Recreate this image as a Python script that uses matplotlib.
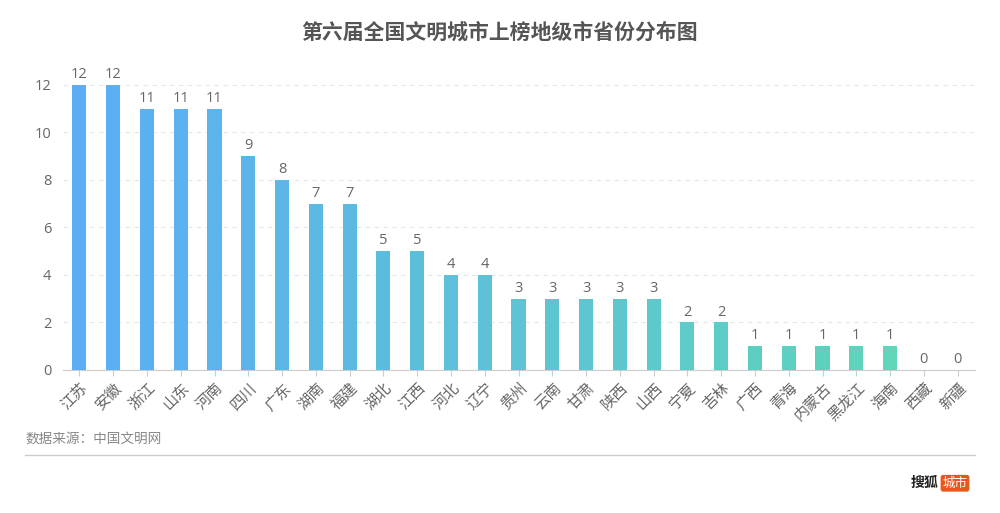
import matplotlib
matplotlib.use('Agg')
import matplotlib.pyplot as plt
from matplotlib.colors import to_rgb
import numpy as np

plt.rcParams['font.family'] = ['Noto Sans CJK SC', 'DejaVu Sans']
num_font = ['Open Sans', 'DejaVu Sans']

provinces = ['江苏', '安徽', '浙江', '山东', '河南', '四川', '广东', '湖南', '福建', '湖北',
             '江西', '河北', '辽宁', '贵州', '云南', '甘肃', '陕西', '山西', '宁夏', '吉林',
             '广西', '青海', '内蒙古', '黑龙江', '海南', '西藏', '新疆']
counts = [12, 12, 11, 11, 11, 9, 8, 7, 7, 5, 5, 4, 4, 3, 3, 3, 3, 3, 2, 2,
          1, 1, 1, 1, 1, 0, 0]
yticks = [0, 2, 4, 6, 8, 10, 12]

fig = plt.figure(figsize=(10, 5.13), dpi=100)
ax = fig.add_axes([0.0625, 0.2788, 0.912, 0.5556])

n = len(provinces)
c0 = np.array(to_rgb('#5BADF5'))
c1 = np.array(to_rgb('#5FD8B4'))
cols = [tuple(c0 + (c1 - c0) * i / (n - 1)) for i in range(n)]

x = np.arange(n)
ax.bar(x, counts, width=0.42, color=cols, zorder=3)
for xi, v in zip(x, counts):
    ax.text(xi, v + 0.12, str(v), ha='center', va='bottom', fontsize=10.5,
            color='#666666', family=num_font)

ax.set_xlim(-0.5, n - 0.5)
ax.set_ylim(0, 12)
ax.set_yticks(yticks)
ax.set_yticklabels([str(t) for t in yticks], fontsize=10.5, color='#666666', family=num_font)
ax.set_xticks(x)
ax.set_xticklabels(provinces, rotation=45, ha='right', rotation_mode='anchor',
                   fontsize=11, color='#666666')
ax.tick_params(axis='y', length=0, pad=8)
ax.tick_params(axis='x', length=4, color='#cccccc', pad=3)
ax.grid(axis='y', color='#e6e6e6', linestyle=(0, (4, 4)), linewidth=0.8, zorder=0)
for s in ['top', 'right', 'left']:
    ax.spines[s].set_visible(False)
ax.spines['bottom'].set_color('#cccccc')

fig.text(0.5, 0.937, '第六届全国文明城市上榜地级市省份分布图', ha='center', va='center',
         fontsize=15, fontweight='bold', color='#555555')
fig.text(0.025, 0.144, '数据来源：中国文明网', ha='left', va='center', fontsize=9.8, color='#888888')
fig.add_artist(plt.Line2D([0.025, 0.975], [0.113, 0.113], color='#cccccc', linewidth=1))
fig.text(0.938, 0.058, '搜狐', ha='right', va='center', fontsize=10, fontweight='bold', color='#222222')
fig.text(0.955, 0.058, '城市', ha='center', va='center', fontsize=9, color='white',
         bbox=dict(boxstyle='round,pad=0.15,rounding_size=0.2', fc='#E8561B', ec='none'))

plt.savefig('out.png', dpi=100)
